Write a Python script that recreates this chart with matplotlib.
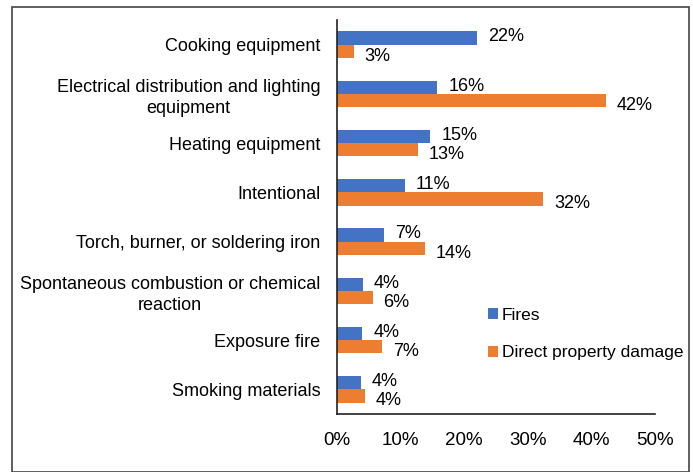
import numpy as np
import matplotlib.pyplot as plt
from matplotlib.patches import Rectangle

plt.rcParams['font.family'] = ['Liberation Sans', 'DejaVu Sans']

categories = ["Cooking equipment",
              "Electrical distribution and lighting\nequipment",
              "Heating equipment",
              "Intentional",
              "Torch, burner, or soldering iron",
              "Spontaneous combustion or chemical\nreaction",
              "Exposure fire",
              "Smoking materials"]
fires = [22.0, 15.8, 14.7, 10.7, 7.4, 4.1, 4.0, 3.8]
damage = [2.6, 42.3, 12.7, 32.4, 13.8, 5.6, 7.1, 4.4]
fires_lbl = ["22%", "16%", "15%", "11%", "7%", "4%", "4%", "4%"]
damage_lbl = ["3%", "42%", "13%", "32%", "14%", "6%", "7%", "4%"]

blue = "#4472C4"
orange = "#ED7D31"
fs = 13

fig = plt.figure(figsize=(6.93, 4.72), dpi=100)
ax = fig.add_axes([337/693, 58/472, 318/693, 394/472])

y = np.arange(len(categories))
h = 0.27
ax.barh(y - h/2, fires, height=h, color=blue, label="Fires")
ax.barh(y + h/2, damage, height=h, color=orange, label="Direct property damage")

for yi, v, t in zip(y, fires, fires_lbl):
    ax.text(v + 1.7, yi - h/2 - 0.02, t, va='center', ha='left', fontsize=fs)
for yi, v, t in zip(y, damage, damage_lbl):
    ax.text(v + 1.7, yi + h/2 + 0.1, t, va='center', ha='left', fontsize=fs)

ax.set_xlim(0, 50)
ax.set_ylim(len(categories) - 0.5, -0.5)
ax.set_xticks(np.arange(0, 51, 10))
ax.set_xticklabels([f"{v}%" for v in range(0, 51, 10)], fontsize=fs + 0.5)
ax.set_yticks(y)
ax.set_yticklabels(categories, fontsize=fs, multialignment='center', linespacing=1.3)
ax.tick_params(length=0)
ax.tick_params(axis='x', pad=13)
ax.tick_params(axis='y', pad=12)
for s in ['top', 'right']:
    ax.spines[s].set_visible(False)
for s in ['left', 'bottom']:
    ax.spines[s].set_color('#222222')
    ax.spines[s].set_linewidth(1.2)

ax.legend(loc='upper left', bbox_to_anchor=(472/693, (472-292)/472),
          bbox_transform=fig.transFigure, frameon=False, fontsize=12.5,
          handlelength=0.6, handleheight=0.6, handletextpad=0.2,
          labelspacing=1.3)

fig.patches.append(Rectangle((12/693, 0), 677/693, 465/472, transform=fig.transFigure,
                             fill=False, edgecolor='#444444', linewidth=1.2))

fig.savefig("out.png", dpi=100)
